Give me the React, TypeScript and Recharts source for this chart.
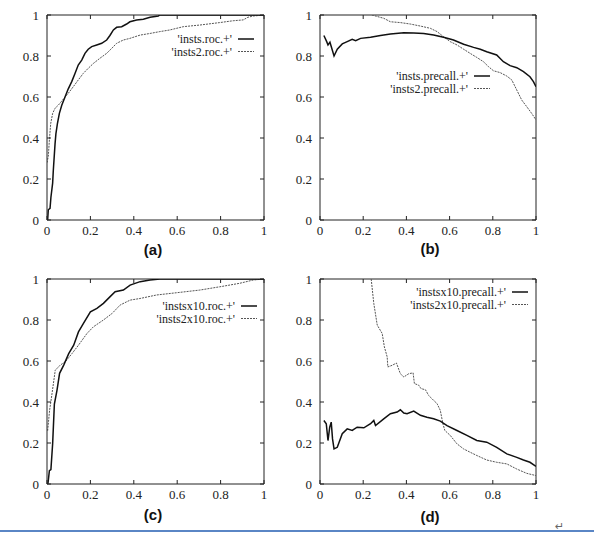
import React from 'react';
import { LineChart, Line, XAxis, YAxis, ReferenceLine, Legend } from 'recharts';

// tick values shared by all four panels
const TICKS = [0, 0.2, 0.4, 0.6, 0.8, 1];

// (a) ROC curves
const instsRocX = [0.003, 0.006, 0.014, 0.018, 0.026, 0.029, 0.037, 0.041, 0.048, 0.057, 0.068, 0.083, 0.098, 0.114, 0.129, 0.144, 0.16, 0.175, 0.19, 0.206, 0.229, 0.252, 0.275, 0.29, 0.306, 0.321, 0.344, 0.367, 0.382, 0.413, 0.444, 0.475, 0.513, 0.52, 1];
const instsRocY = [0, 0.05, 0.057, 0.11, 0.18, 0.24, 0.37, 0.42, 0.47, 0.52, 0.56, 0.6, 0.64, 0.675, 0.715, 0.756, 0.78, 0.813, 0.833, 0.846, 0.854, 0.862, 0.878, 0.9, 0.927, 0.94, 0.943, 0.956, 0.967, 0.976, 0.979, 0.989, 0.995, 1, 1];
const insts2RocX = [0, 0.006, 0.011, 0.017, 0.026, 0.037, 0.052, 0.068, 0.083, 0.098, 0.121, 0.144, 0.167, 0.19, 0.214, 0.244, 0.275, 0.298, 0.321, 0.352, 0.382, 0.429, 0.475, 0.52, 0.566, 0.628, 0.704, 0.796, 0.858, 0.904, 0.926, 0.95, 1];
const insts2RocY = [0.28, 0.31, 0.39, 0.47, 0.52, 0.545, 0.56, 0.58, 0.6, 0.618, 0.65, 0.683, 0.715, 0.74, 0.764, 0.789, 0.813, 0.837, 0.862, 0.878, 0.886, 0.902, 0.91, 0.919, 0.927, 0.943, 0.951, 0.963, 0.972, 0.976, 0.989, 0.995, 1];

// (b) precision / recall
const instsPrX = [0.018, 0.031, 0.037, 0.046, 0.052, 0.065, 0.08, 0.103, 0.126, 0.149, 0.165, 0.188, 0.234, 0.28, 0.326, 0.388, 0.434, 0.48, 0.526, 0.572, 0.618, 0.665, 0.711, 0.742, 0.772, 0.818, 0.849, 0.88, 0.911, 0.942, 0.972, 0.988, 1];
const instsPrY = [0.9, 0.87, 0.854, 0.867, 0.846, 0.8, 0.833, 0.859, 0.87, 0.881, 0.875, 0.886, 0.891, 0.9, 0.907, 0.914, 0.912, 0.91, 0.902, 0.891, 0.878, 0.857, 0.842, 0.833, 0.821, 0.805, 0.772, 0.753, 0.743, 0.724, 0.699, 0.675, 0.65];
const insts2PrX = [0.24, 0.295, 0.326, 0.372, 0.418, 0.465, 0.511, 0.542, 0.572, 0.603, 0.634, 0.665, 0.695, 0.726, 0.757, 0.78, 0.803, 0.834, 0.865, 0.888, 0.911, 0.934, 0.957, 0.98, 1];
const insts2PrY = [1, 0.984, 0.967, 0.963, 0.956, 0.946, 0.935, 0.919, 0.894, 0.87, 0.854, 0.833, 0.813, 0.793, 0.772, 0.748, 0.728, 0.719, 0.702, 0.683, 0.634, 0.585, 0.553, 0.52, 0.488];

// (c) ROC curves, x10
const instsx10RocX = [0.003, 0.005, 0.011, 0.018, 0.026, 0.034, 0.046, 0.058, 0.077, 0.1, 0.123, 0.145, 0.168, 0.2, 0.23, 0.26, 0.291, 0.314, 0.352, 0.383, 0.429, 0.475, 0.52, 1];
const instsx10RocY = [0, 0.008, 0.065, 0.07, 0.196, 0.39, 0.457, 0.54, 0.58, 0.636, 0.677, 0.742, 0.783, 0.84, 0.857, 0.881, 0.914, 0.938, 0.946, 0.97, 0.987, 0.995, 1, 1];
const insts2x10RocX = [0.003, 0.012, 0.023, 0.038, 0.061, 0.084, 0.115, 0.145, 0.184, 0.214, 0.26, 0.3, 0.337, 0.383, 0.429, 0.505, 0.597, 0.704, 0.796, 0.888, 0.95, 1];
const insts2x10RocY = [0.26, 0.36, 0.44, 0.555, 0.58, 0.596, 0.636, 0.677, 0.734, 0.767, 0.8, 0.832, 0.873, 0.897, 0.905, 0.922, 0.933, 0.946, 0.962, 0.979, 0.995, 1];

// (d) precision / recall, x10
const instsx10PrX = [0.018, 0.029, 0.037, 0.045, 0.052, 0.058, 0.065, 0.08, 0.103, 0.126, 0.149, 0.172, 0.203, 0.234, 0.249, 0.257, 0.295, 0.326, 0.357, 0.372, 0.388, 0.403, 0.434, 0.465, 0.495, 0.526, 0.557, 0.588, 0.634, 0.68, 0.726, 0.772, 0.818, 0.865, 0.911, 0.942, 0.972, 1];
const instsx10PrY = [0.31, 0.294, 0.212, 0.277, 0.302, 0.22, 0.171, 0.179, 0.245, 0.269, 0.261, 0.277, 0.274, 0.294, 0.31, 0.285, 0.318, 0.343, 0.351, 0.362, 0.346, 0.343, 0.356, 0.335, 0.326, 0.318, 0.307, 0.285, 0.261, 0.237, 0.212, 0.204, 0.179, 0.147, 0.13, 0.117, 0.106, 0.086];
const insts2x10PrX = [0.237, 0.249, 0.265, 0.288, 0.298, 0.311, 0.314, 0.334, 0.354, 0.372, 0.388, 0.411, 0.431, 0.437, 0.457, 0.468, 0.488, 0.503, 0.526, 0.542, 0.557, 0.569, 0.578, 0.603, 0.634, 0.665, 0.695, 0.726, 0.772, 0.818, 0.865, 0.911, 0.957, 1];
const insts2x10PrY = [1, 0.881, 0.775, 0.734, 0.669, 0.62, 0.571, 0.579, 0.59, 0.538, 0.522, 0.538, 0.542, 0.49, 0.482, 0.465, 0.46, 0.432, 0.408, 0.392, 0.359, 0.294, 0.261, 0.237, 0.196, 0.171, 0.155, 0.139, 0.117, 0.106, 0.098, 0.073, 0.052, 0.041];

const toPoints = (xs: number[], ys: number[]) => xs.map((x, i) => ({ x, y: ys[i] }));

const SERIF = 'Liberation Serif, Times New Roman, serif';
const INK = '#222';
const TICK_LEN = 4;
const PLOT_H = 205;
const LEGEND_W = 200;

interface PanelProps {
    left: number;
    top: number;
    width: number;
    plotLeft: number;
    plotWidth: number;
    solid: { name: string; data: { x: number; y: number }[] };
    dotted: { name: string; data: { x: number; y: number }[] };
    legendRight: number; // right end of the key sample line
    legendTop: number;
}

const Panel: React.FC<PanelProps> = ({ left, top, width, plotLeft, plotWidth, solid, dotted, legendRight, legendTop }) => {
    const marginLeft = 5;
    const yAxisWidth = plotLeft - marginLeft;
    const marginRight = width - plotLeft - plotWidth;

    // gnuplot style: inward ticks on both sides of the frame
    const XTick = (props: any) => {
        const { x, y, payload } = props;
        return (
            <g>
                <line x1={x} y1={y} x2={x} y2={y - TICK_LEN} stroke={INK} />
                <line x1={x} y1={y - PLOT_H} x2={x} y2={y - PLOT_H + TICK_LEN} stroke={INK} />
                <text x={x} y={y + 15} textAnchor="middle" fill={INK} fontFamily={SERIF} fontSize={13}>
                    {String(payload.value)}
                </text>
            </g>
        );
    };
    const YTick = (props: any) => {
        const { x, y, payload } = props;
        return (
            <g>
                <line x1={x} y1={y} x2={x + TICK_LEN} y2={y} stroke={INK} />
                <line x1={x + plotWidth} y1={y} x2={x + plotWidth - TICK_LEN} y2={y} stroke={INK} />
                <text x={x - 8} y={y + 4.5} textAnchor="end" fill={INK} fontFamily={SERIF} fontSize={13}>
                    {String(payload.value)}
                </text>
            </g>
        );
    };

    const renderLegend = () => (
        <svg width={LEGEND_W} height={28} style={{ display: 'block' }}>
            {[solid, dotted].map((s, i) => {
                const cy = 7 + i * 12.5;
                return (
                    <g key={s.name}>
                        <text x={LEGEND_W - 24} y={cy + 4} textAnchor="end" fill={INK} fontFamily={SERIF} fontSize={12}>
                            {s.name}
                        </text>
                        <line
                            x1={LEGEND_W - 18}
                            y1={cy}
                            x2={LEGEND_W - 2}
                            y2={cy}
                            stroke={i === 0 ? '#111' : '#555'}
                            strokeWidth={i === 0 ? 1.5 : 1}
                            strokeDasharray={i === 0 ? undefined : '2 1'}
                        />
                    </g>
                );
            })}
        </svg>
    );

    return (
        <div style={{ position: 'absolute', left, top }}>
            <LineChart width={width} height={267} margin={{ top: 15, right: marginRight, bottom: 17, left: marginLeft }}>
                <XAxis
                    type="number"
                    dataKey="x"
                    domain={[0, 1]}
                    ticks={TICKS}
                    allowDataOverflow
                    height={30}
                    tickSize={0}
                    tickMargin={0}
                    tickLine={false}
                    axisLine={{ stroke: INK }}
                    tick={<XTick />}
                    interval={0}
                />
                <YAxis
                    type="number"
                    dataKey="y"
                    domain={[0, 1]}
                    ticks={TICKS}
                    allowDataOverflow
                    width={yAxisWidth}
                    tickSize={0}
                    tickMargin={0}
                    tickLine={false}
                    axisLine={{ stroke: INK }}
                    tick={<YTick />}
                    interval={0}
                />
                <ReferenceLine y={1} stroke={INK} />
                <ReferenceLine x={1} stroke={INK} />
                <Legend
                    layout="horizontal"
                    verticalAlign="middle"
                    align="center"
                    content={renderLegend}
                    wrapperStyle={{ left: legendRight - (LEGEND_W - 2), top: legendTop, width: LEGEND_W }}
                />
                <Line
                    data={dotted.data}
                    dataKey="y"
                    name={dotted.name}
                    type="linear"
                    stroke="#555"
                    strokeWidth={1}
                    strokeDasharray="2 1"
                    dot={false}
                    isAnimationActive={false}
                />
                <Line
                    data={solid.data}
                    dataKey="y"
                    name={solid.name}
                    type="linear"
                    stroke="#111"
                    strokeWidth={1.5}
                    dot={false}
                    isAnimationActive={false}
                />
            </LineChart>
        </div>
    );
};

const captionStyle = (cx: number, cy: number): React.CSSProperties => ({
    position: 'absolute',
    left: cx - 20,
    top: cy - 10,
    width: 40,
    textAlign: 'center',
    fontFamily: 'Liberation Sans, Arial, sans-serif',
    fontWeight: 'bold',
    fontSize: 15,
    lineHeight: '20px',
    color: '#111',
});

export default function App() {
    return (
        <div style={{ position: 'fixed', left: 0, top: 0, width: 594, height: 534, background: '#fff', overflow: 'hidden' }}>
            <Panel
                left={0}
                top={0}
                width={297}
                plotLeft={47}
                plotWidth={217}
                solid={{ name: "'insts.roc.+'", data: toPoints(instsRocX, instsRocY) }}
                dotted={{ name: "'insts2.roc.+'", data: toPoints(insts2RocX, insts2RocY) }}
                legendRight={254}
                legendTop={32}
            />
            <Panel
                left={270}
                top={0}
                width={324}
                plotLeft={50}
                plotWidth={216}
                solid={{ name: "'insts.precall.+'", data: toPoints(instsPrX, instsPrY) }}
                dotted={{ name: "'insts2.precall.+'", data: toPoints(insts2PrX, insts2PrY) }}
                legendRight={220}
                legendTop={69}
            />
            <Panel
                left={0}
                top={264}
                width={297}
                plotLeft={47}
                plotWidth={217}
                solid={{ name: "'instsx10.roc.+'", data: toPoints(instsx10RocX, instsx10RocY) }}
                dotted={{ name: "'insts2x10.roc.+'", data: toPoints(insts2x10RocX, insts2x10RocY) }}
                legendRight={257}
                legendTop={35}
            />
            <Panel
                left={270}
                top={264}
                width={324}
                plotLeft={50}
                plotWidth={216}
                solid={{ name: "'instsx10.precall.+'", data: toPoints(instsx10PrX, instsx10PrY) }}
                dotted={{ name: "'insts2x10.precall.+'", data: toPoints(insts2x10PrX, insts2x10PrY) }}
                legendRight={258}
                legendTop={21}
            />
            <div style={captionStyle(153, 250)}>(a)</div>
            <div style={captionStyle(430, 249)}>(b)</div>
            <div style={captionStyle(153, 515)}>(c)</div>
            <div style={captionStyle(430, 517)}>(d)</div>
            <div style={{ position: 'absolute', left: 555, top: 520, fontSize: 11, color: '#666', fontFamily: 'DejaVu Sans, sans-serif' }}>↵</div>
            <div style={{ position: 'absolute', left: 0, top: 530, width: 594, height: 2, background: '#5a86c5' }} />
        </div>
    );
}
